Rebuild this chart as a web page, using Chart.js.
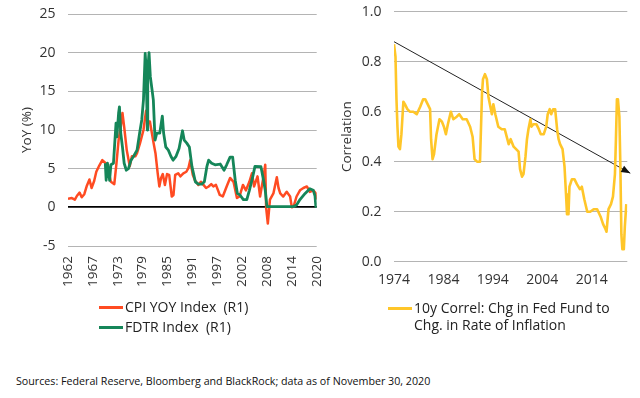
<!DOCTYPE html>
<html>
<head>
<meta charset="utf-8">
<script src="https://cdn.jsdelivr.net/npm/chart.js@4"></script>
<style>
  html, body { margin: 0; padding: 0; background: #fff; }
  body { width: 640px; height: 398px; position: relative; overflow: hidden; font-family: 'Open Sans', sans-serif; color: #222; }
  canvas { position: absolute; top: 0; }
  #left-chart { left: 0; }
  #right-chart { left: 320px; }
  .legend { position: absolute; font-size: 14px; line-height: 16.6px; white-space: nowrap; }
  .swatch { position: absolute; width: 24px; height: 3px; }
  .source { position: absolute; left: 16px; top: 374px; font-size: 10.7px; color: #111; }
</style>
</head>
<body>
<canvas id="left-chart" width="330" height="300"></canvas>
<canvas id="right-chart" width="320" height="300"></canvas>

<div class="legend" style="left:99px; top:299px;"><span class="swatch" style="left:0; top:7px; background:#ff4b22;"></span><span style="margin-left:26px;">CPI YOY Index&nbsp; (R1)</span></div>
<div class="legend" style="left:99px; top:319px;"><span class="swatch" style="left:0; top:7px; background:#158659;"></span><span style="margin-left:26px;">FDTR Index&nbsp; (R1)</span></div>
<div class="legend" style="left:388px; top:300px;"><span class="swatch" style="left:0; top:7px; background:#ffc629;"></span><div style="margin-left:26px;">10y Correl: Chg in Fed Fund to<br>Chg. in Rate of Inflation</div></div>

<div class="source">Sources: Federal Reserve, Bloomberg and BlackRock; data as of November 30, 2020</div>

<script>
// ── Data ─────────────────────────────────────────────────────────────────────
const LEFT_X_LABELS = ['1962', '1967', '1973', '1979', '1985', '1991', '1997', '2002', '2008', '2014', '2020'];
const RIGHT_X_LABELS = [1974, 1984, 1994, 2004, 2014];

const CPI_YEARS = [
  1962.0, 1962.9, 1963.6, 1964.1, 1964.7, 1965.2, 1965.8, 1966.4, 1967.0, 1967.5,
  1968.1, 1968.6, 1969.3, 1970.0, 1970.6, 1971.2, 1971.6, 1972.0, 1972.8, 1973.3,
  1973.8, 1974.3, 1974.7, 1975.1, 1975.7, 1976.4, 1976.9, 1977.7, 1978.1, 1978.8,
  1979.6, 1980.2, 1980.7, 1981.1, 1981.9, 1982.4, 1982.9, 1983.3, 1983.7, 1984.1,
  1984.6, 1985.1, 1985.6, 1986.2, 1986.6, 1987.0, 1987.7, 1988.2, 1988.9, 1989.6,
  1990.1, 1990.5, 1991.1, 1991.6, 1992.4, 1993.0, 1993.6, 1994.2, 1994.8, 1995.4,
  1995.9, 1996.5, 1997.4, 1998.1, 1999.0, 1999.8, 2000.6, 2001.4, 2002.0, 2002.8,
  2003.5, 2004.3, 2004.9, 2005.4, 2006.2, 2006.8, 2007.6, 2008.0, 2008.2, 2008.6,
  2009.1, 2009.9, 2010.7, 2011.1, 2011.5, 2012.2, 2013.0, 2013.8, 2014.2, 2014.6,
  2015.3, 2016.1, 2016.9, 2017.7, 2018.4, 2019.2, 2019.8, 2020.0
];
const CPI_VALUES = [
  1.1, 1.2, 1.0, 1.5, 1.9, 1.3, 1.7, 2.8, 3.6, 2.5,
  3.4, 4.6, 5.4, 6.1, 5.8, 5.5, 4.3, 3.3, 3.0, 5.7,
  8.7, 10.4, 12.2, 10.4, 7.4, 5.3, 6.6, 6.6, 7.0, 8.3,
  10.0, 12.5, 11.0, 11.1, 8.5, 7.0, 4.5, 2.7, 3.8, 4.3,
  2.9, 4.3, 4.2, 1.4, 1.6, 4.2, 4.4, 4.0, 4.4, 4.6,
  5.1, 6.1, 4.2, 3.5, 2.9, 3.3, 2.9, 2.5, 2.7, 3.0,
  2.7, 2.9, 1.6, 1.4, 2.7, 3.8, 3.3, 1.2, 1.4, 2.9,
  2.2, 3.3, 4.4, 2.7, 4.0, 1.4, 4.0, 5.5, 0.0, -2.1,
  1.0, 1.8, 3.9, 2.5, 1.8, 1.4, 2.0, 1.4, 0.0, 0.1,
  1.4, 2.2, 2.5, 2.7, 2.0, 2.2, 1.8, 1.0
];

const FDTR_YEARS = [
  1970.7, 1970.9, 1971.2, 1971.7, 1972.0, 1972.6, 1973.2, 1973.4, 1973.8, 1974.0,
  1974.3, 1974.7, 1975.1, 1975.6, 1976.1, 1976.7, 1977.3, 1978.1, 1978.7, 1979.2,
  1979.6, 1980.0, 1980.2, 1980.5, 1980.6, 1980.9, 1981.2, 1981.6, 1981.9, 1982.3,
  1982.7, 1983.4, 1984.0, 1984.3, 1984.8, 1985.4, 1986.0, 1986.5, 1987.2, 1987.9,
  1988.7, 1989.1, 1989.7, 1990.3, 1990.9, 1991.7, 1992.4, 1993.2, 1993.8, 1994.4,
  1994.8, 1995.5, 1996.3, 1997.5, 1998.4, 1999.0, 1999.8, 2000.4, 2001.0, 2001.5,
  2002.1, 2002.9, 2003.7, 2004.3, 2005.1, 2005.6, 2007.0, 2007.6, 2008.0, 2008.4,
  2014.6, 2015.3, 2016.1, 2017.3, 2018.4, 2019.2, 2019.6, 2019.8, 2020.0
];
const FDTR_VALUES = [
  5.7, 3.5, 5.7, 3.5, 5.5, 5.7, 10.9, 9.1, 12.2, 13.0,
  9.6, 7.8, 5.7, 4.8, 5.0, 6.1, 6.6, 7.4, 9.6, 11.3,
  13.9, 19.9, 18.2, 10.0, 17.8, 20.0, 16.9, 15.2, 13.9, 8.7,
  9.6, 9.6, 11.8, 9.6, 7.8, 7.4, 6.6, 6.1, 6.6, 7.6,
  9.9, 8.7, 8.3, 7.8, 5.3, 3.3, 3.0, 3.0, 3.3, 5.3,
  6.1, 5.7, 5.5, 5.6, 4.8, 5.5, 6.5, 6.5, 3.5, 1.8,
  1.6, 1.0, 1.0, 2.2, 4.0, 5.3, 5.25, 3.5, 2.2, 0.1,
  0.1, 0.3, 1.0, 1.8, 2.4, 2.2, 1.5, 0.1, 0.1
];

const CORR_YEARS = [
  1974.0, 1974.3, 1974.5, 1974.7, 1974.9, 1975.2, 1975.5, 1975.9, 1976.2, 1976.7,
  1977.2, 1977.9, 1978.6, 1979.3, 1979.9, 1980.3, 1980.8, 1981.3, 1981.5, 1981.8,
  1982.1, 1982.6, 1983.2, 1983.7, 1984.1, 1984.5, 1984.9, 1985.5, 1986.0, 1986.7,
  1987.2, 1987.9, 1988.7, 1989.4, 1989.9, 1990.3, 1990.8, 1991.4, 1991.8, 1992.0,
  1992.4, 1992.8, 1993.1, 1993.5, 1993.8, 1994.1, 1994.5, 1995.1, 1995.8, 1996.4,
  1996.8, 1997.2, 1997.6, 1998.2, 1998.7, 1999.2, 1999.5, 1999.9, 2000.2, 2000.6,
  2000.9, 2001.2, 2001.6, 2001.8, 2002.2, 2002.8, 2003.3, 2003.7, 2004.3, 2004.8,
  2005.1, 2005.5, 2005.8, 2006.2, 2006.6, 2007.0, 2007.3, 2007.6, 2008.1, 2008.5,
  2008.8, 2009.0, 2009.3, 2009.5, 2010.0, 2010.5, 2011.0, 2011.6, 2012.0, 2012.5,
  2013.1, 2013.7, 2014.4, 2015.1, 2015.8, 2016.3, 2016.8, 2017.0, 2017.4, 2017.9,
  2018.3, 2018.7, 2018.9, 2019.1, 2019.3, 2019.6, 2019.8, 2020.0, 2020.2, 2020.5,
  2020.7, 2021.0
];
const CORR_VALUES = [
  0.87, 0.82, 0.65, 0.54, 0.46, 0.45, 0.51, 0.64, 0.63, 0.61,
  0.60, 0.60, 0.59, 0.62, 0.65, 0.65, 0.63, 0.61, 0.49, 0.41,
  0.43, 0.51, 0.57, 0.56, 0.54, 0.51, 0.55, 0.60, 0.57, 0.58,
  0.59, 0.57, 0.57, 0.54, 0.50, 0.41, 0.40, 0.40, 0.67, 0.73,
  0.75, 0.73, 0.66, 0.62, 0.59, 0.63, 0.59, 0.54, 0.53, 0.53,
  0.50, 0.47, 0.49, 0.46, 0.45, 0.44, 0.37, 0.34, 0.35, 0.42,
  0.49, 0.53, 0.57, 0.54, 0.55, 0.55, 0.53, 0.51, 0.51, 0.54,
  0.59, 0.61, 0.59, 0.61, 0.61, 0.53, 0.49, 0.47, 0.45, 0.38,
  0.27, 0.19, 0.19, 0.30, 0.33, 0.33, 0.31, 0.29, 0.30, 0.25,
  0.20, 0.20, 0.21, 0.21, 0.18, 0.15, 0.13, 0.12, 0.21, 0.23,
  0.26, 0.35, 0.49, 0.65, 0.65, 0.58, 0.38, 0.11, 0.05, 0.05,
  0.14, 0.23
];

// downward trend arrow
const TREND_YEARS = [1974.0, 2021.8];
const TREND_VALUES = [0.88, 0.354];

const RED = '#ff4b22';
const GREEN = '#158659';
const YELLOW = '#ffc629';
const GRID = '#b4b4b4';
const TICK_FONT = { family: "'Open Sans', sans-serif", size: 14 };
const ROT_FONT = { family: "'Open Sans', sans-serif", size: 13.5 };
const TITLE_FONT = { family: "'Open Sans', sans-serif", size: 13.5 };
const TICK_COLOR = '#333';

const toPoints = (xs, ys) => xs.map((x, i) => ({ x, y: ys[i] }));

// keep the plot box where we put it, labels may spill into the padding
const noXPad = scale => { scale.paddingLeft = 0; scale.paddingRight = 0; };
const noYPad = scale => { scale.paddingTop = 0; scale.paddingBottom = 0; };

// ── Left chart: CPI vs FDTR ──────────────────────────────────────────────────
new Chart(document.getElementById('left-chart'), {
  type: 'line',
  data: {
    datasets: [
      { label: 'FDTR Index (R1)', data: toPoints(FDTR_YEARS, FDTR_VALUES), borderColor: GREEN, borderWidth: 2.8, order: 0 },
      { label: 'CPI YOY Index (R1)', data: toPoints(CPI_YEARS, CPI_VALUES), borderColor: RED, borderWidth: 2.5, order: 1 },
    ],
  },
  options: {
    responsive: false,
    animation: false,
    layout: { padding: { left: 0, top: 14, right: 13.3, bottom: 4 } },
    elements: { point: { radius: 0 }, line: { tension: 0, borderJoinStyle: 'round' } },
    plugins: { legend: { display: false }, tooltip: { enabled: false } },
    scales: {
      x: {
        type: 'linear',
        min: 1962,
        max: 2020,
        afterBuildTicks: axis => {
          axis.ticks = LEFT_X_LABELS.map((_, i) => ({ value: 1962 + i * 5.8 }));
        },
        afterFit: scale => { scale.height = 50; noXPad(scale); },
        ticks: {
          autoSkip: false,
          minRotation: 90,
          maxRotation: 90,
          padding: 10,
          color: TICK_COLOR,
          font: ROT_FONT,
          callback: (v, i) => LEFT_X_LABELS[i],
        },
        grid: { display: false, drawTicks: false },
        border: { display: false },
      },
      y: {
        min: -5,
        max: 25,
        afterFit: scale => { scale.width = 68; noYPad(scale); },
        ticks: { stepSize: 5, padding: 12.5, color: TICK_COLOR, font: TICK_FONT },
        grid: {
          drawTicks: false,
          color: ctx => (ctx.tick && ctx.tick.value === 0 ? '#000' : GRID),
          lineWidth: ctx => (ctx.tick && ctx.tick.value === 0 ? 1.8 : 1),
        },
        border: { display: false },
        title: { display: true, text: 'YoY (%)', color: TICK_COLOR, font: TITLE_FONT, padding: { top: 19, bottom: 0 } },
      },
    },
  },
});

// ── Right chart: rolling correlation ─────────────────────────────────────────
const arrowHead = {
  id: 'arrowHead',
  afterDatasetsDraw(chart) {
    const pts = chart.getDatasetMeta(1).data;
    const a = pts[pts.length - 2];
    const b = pts[pts.length - 1];
    const ang = Math.atan2(b.y - a.y, b.x - a.x);
    const len = 9, half = 3.5;
    const { ctx } = chart;
    ctx.save();
    ctx.fillStyle = '#111';
    ctx.beginPath();
    ctx.moveTo(b.x, b.y);
    ctx.lineTo(b.x - len * Math.cos(ang) + half * Math.sin(ang), b.y - len * Math.sin(ang) - half * Math.cos(ang));
    ctx.lineTo(b.x - len * Math.cos(ang) - half * Math.sin(ang), b.y - len * Math.sin(ang) + half * Math.cos(ang));
    ctx.closePath();
    ctx.fill();
    ctx.restore();
  },
};

new Chart(document.getElementById('right-chart'), {
  type: 'line',
  data: {
    datasets: [
      { label: '10y Correl: Chg in Fed Fund to Chg. in Rate of Inflation', data: toPoints(CORR_YEARS, CORR_VALUES), borderColor: YELLOW, borderWidth: 2.6 },
      { label: 'trend', data: toPoints(TREND_YEARS, TREND_VALUES), borderColor: '#222', borderWidth: 1, clip: false },
    ],
  },
  options: {
    responsive: false,
    animation: false,
    layout: { padding: { left: 0, top: 11.7, right: 12.7, bottom: 0 } },
    elements: { point: { radius: 0 }, line: { tension: 0, borderJoinStyle: 'round' } },
    plugins: { legend: { display: false }, tooltip: { enabled: false } },
    scales: {
      x: {
        type: 'linear',
        min: 1974,
        max: 2021.2,
        afterBuildTicks: axis => {
          axis.ticks = RIGHT_X_LABELS.map(v => ({ value: v }));
        },
        afterFit: scale => { scale.height = 38.3; noXPad(scale); },
        ticks: { autoSkip: false, maxRotation: 0, padding: 10, color: TICK_COLOR, font: TICK_FONT, callback: v => String(v) },
        grid: { display: false, drawTicks: false },
        border: { display: false },
      },
      y: {
        min: 0,
        max: 1,
        afterFit: scale => { scale.width = 74; noYPad(scale); },
        ticks: { stepSize: 0.2, padding: 12.5, color: TICK_COLOR, font: TICK_FONT, callback: v => v.toFixed(1) },
        grid: { drawTicks: false, color: GRID, lineWidth: 1 },
        border: { display: false },
        title: { display: true, text: 'Correlation', color: TICK_COLOR, font: TITLE_FONT, padding: { top: 19, bottom: 0 } },
      },
    },
  },
  plugins: [arrowHead],
});
</script>
</body>
</html>
